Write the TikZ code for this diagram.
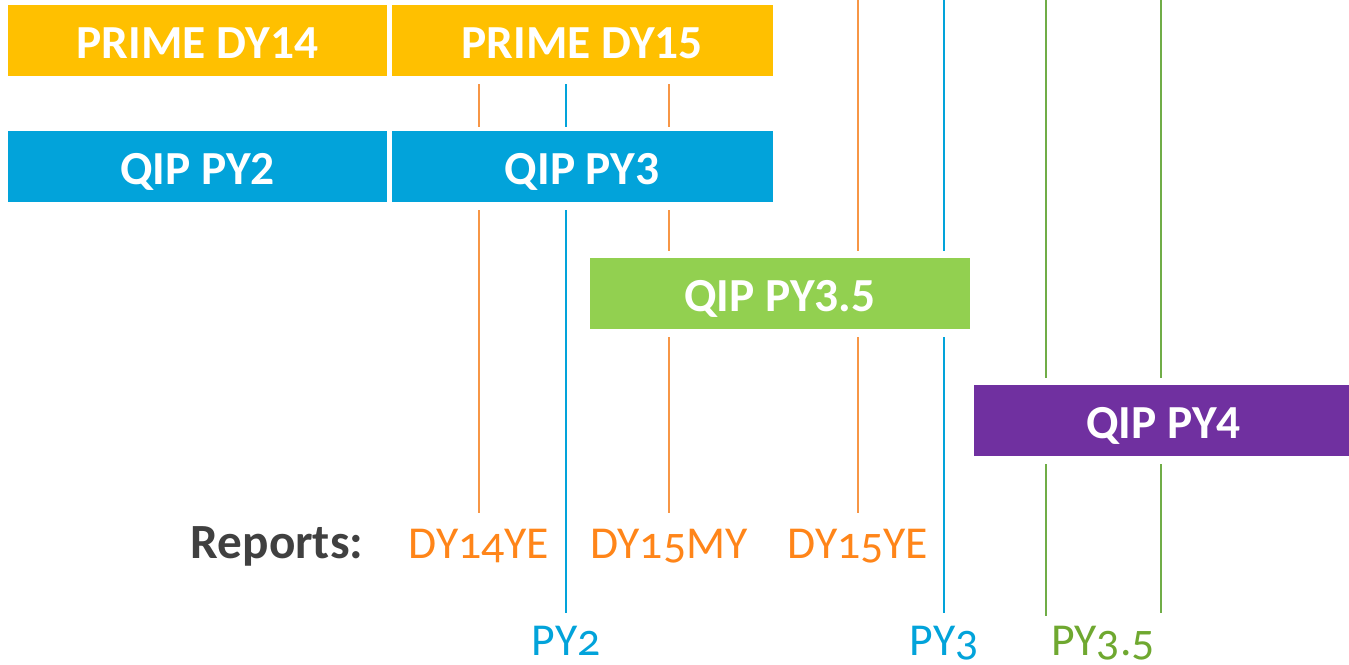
\documentclass[tikz,border=0pt]{standalone}
\usepackage{fontspec}
\setmainfont{Carlito}
\newfontfamily\oldnum[Numbers=OldStyle]{Carlito}
\usetikzlibrary{positioning}
\definecolor{primeyellow}{HTML}{FFC000}
\definecolor{qipblue}{HTML}{02A3DA}
\definecolor{qipgreen}{HTML}{92D050}
\definecolor{qippurple}{HTML}{7030A0}
\definecolor{lineorange}{HTML}{F79646}
\definecolor{textorange}{HTML}{FF8519}
\definecolor{linegreen}{HTML}{70AD47}
\definecolor{textgreen}{HTML}{6FA830}
\definecolor{darkgray}{HTML}{404040}
\tikzstyle{bar} = [rectangle, draw=white, line width=0.5pt, text=white, anchor=north west, inner sep=0pt, minimum height=1.44cm, text height=20.8pt, text depth=0pt, font=\fontsize{27}{30}\selectfont\bfseries]
\tikzstyle{guide} = [line width=0.8pt]
\tikzstyle{report} = [anchor=base, inner sep=0pt, font=\fontsize{26}{30}\selectfont\oldnum]

\begin{document}
\begin{tikzpicture}[x=0.02cm, y=-0.02cm]
	\useasboundingbox (0,0) rectangle (1349,664);
	% guide lines, broken around the bars
	\foreach \x/\ya/\yb in {479/-5/0, 479/84/127, 479/210/513, 669/-5/0, 669/84/127, 669/210/251, 669/337/513, 858/-5/251, 858/337/513}
		\draw [guide, lineorange] (\x,\ya) -- (\x,\yb);
	\foreach \x/\ya/\yb in {566/-5/0, 566/84/127, 566/210/613, 944/-5/251, 944/337/613}
		\draw [guide, qipblue] (\x,\ya) -- (\x,\yb);
	\foreach \x/\ya/\yb in {1046/-5/378, 1046/464/616, 1161/-5/378, 1161/464/613}
		\draw [guide, linegreen] (\x,\ya) -- (\x,\yb);
	% bars
	\node [bar, fill=primeyellow, minimum width=7.6cm] (dy14) at (7,4) {PRIME DY14};
	\node [bar, fill=primeyellow, minimum width=7.64cm, right=0.06cm of dy14.north east, anchor=north west] (dy15) {PRIME DY15};
	\node [bar, fill=qipblue, minimum width=7.6cm] (py2) at (7,130) {QIP PY2};
	\node [bar, fill=qipblue, minimum width=7.64cm, right=0.06cm of py2.north east, anchor=north west] (py3) {QIP PY3};
	\node [bar, fill=qipgreen, minimum width=7.62cm] (py35) at (589,257) {QIP PY3.5};
	\node [bar, fill=qippurple, minimum width=7.6cm] (py4) at (973,384) {QIP PY4};
	% reports
	\node [report, text=darkgray, font=\fontsize{28}{30}\selectfont\bfseries] (reports) at (277,558) {Reports:};
	\node [report, text=textorange] (dy14ye) at (479,558) {DY14YE};
	\node [report, text=textorange] (dy15my) at (669,558) {DY15MY};
	\node [report, text=textorange] (dy15ye) at (858,558) {DY15YE};
	\node [report, text=qipblue] (py2rep) at (566,655) {PY2};
	\node [report, text=qipblue] (py3rep) at (944,655) {PY3};
	\node [report, text=textgreen] (py35rep) at (1103,655) {PY3.5};
\end{tikzpicture}
\end{document}
